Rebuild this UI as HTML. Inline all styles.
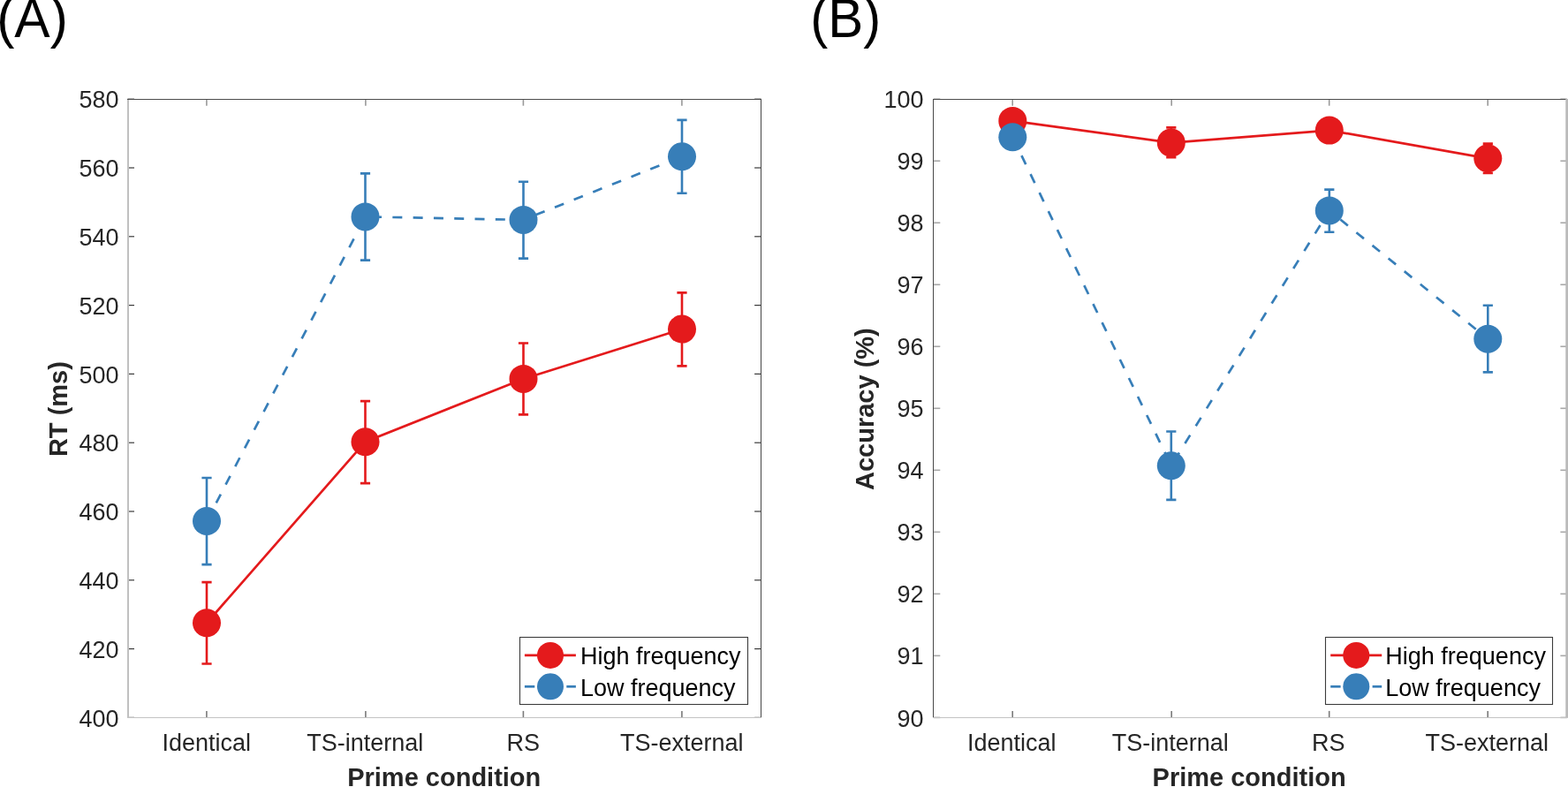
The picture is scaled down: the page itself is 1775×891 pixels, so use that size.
<!DOCTYPE html>
<html><head><meta charset="utf-8"><title>Prime condition RT and accuracy</title>
<style>html,body{margin:0;padding:0;background:#fff;}body{width:1775px;height:891px;overflow:hidden;}svg{display:block;font-family:'Liberation Sans', Arial, sans-serif;}</style>
</head><body>
<svg width="1775" height="891" viewBox="0 0 1775 891">
<rect width="1775" height="891" fill="#fff"/>
<text transform="translate(-3.8,41.8) scale(1,1.035)" font-size="60.5" fill="#000">(A)</text><g><line x1="144.5" y1="812.4" x2="152" y2="812.4" stroke="#3a3a3a" stroke-width="1.2"/><line x1="861.6" y1="812.4" x2="854.1" y2="812.4" stroke="#3a3a3a" stroke-width="1.2"/><line x1="144.5" y1="734.6" x2="152" y2="734.6" stroke="#3a3a3a" stroke-width="1.2"/><line x1="861.6" y1="734.6" x2="854.1" y2="734.6" stroke="#3a3a3a" stroke-width="1.2"/><line x1="144.5" y1="656.8" x2="152" y2="656.8" stroke="#3a3a3a" stroke-width="1.2"/><line x1="861.6" y1="656.8" x2="854.1" y2="656.8" stroke="#3a3a3a" stroke-width="1.2"/><line x1="144.5" y1="579" x2="152" y2="579" stroke="#3a3a3a" stroke-width="1.2"/><line x1="861.6" y1="579" x2="854.1" y2="579" stroke="#3a3a3a" stroke-width="1.2"/><line x1="144.5" y1="501.2" x2="152" y2="501.2" stroke="#3a3a3a" stroke-width="1.2"/><line x1="861.6" y1="501.2" x2="854.1" y2="501.2" stroke="#3a3a3a" stroke-width="1.2"/><line x1="144.5" y1="423.4" x2="152" y2="423.4" stroke="#3a3a3a" stroke-width="1.2"/><line x1="861.6" y1="423.4" x2="854.1" y2="423.4" stroke="#3a3a3a" stroke-width="1.2"/><line x1="144.5" y1="345.6" x2="152" y2="345.6" stroke="#3a3a3a" stroke-width="1.2"/><line x1="861.6" y1="345.6" x2="854.1" y2="345.6" stroke="#3a3a3a" stroke-width="1.2"/><line x1="144.5" y1="267.8" x2="152" y2="267.8" stroke="#3a3a3a" stroke-width="1.2"/><line x1="861.6" y1="267.8" x2="854.1" y2="267.8" stroke="#3a3a3a" stroke-width="1.2"/><line x1="144.5" y1="190" x2="152" y2="190" stroke="#3a3a3a" stroke-width="1.2"/><line x1="861.6" y1="190" x2="854.1" y2="190" stroke="#3a3a3a" stroke-width="1.2"/><line x1="144.5" y1="112.2" x2="152" y2="112.2" stroke="#3a3a3a" stroke-width="1.2"/><line x1="861.6" y1="112.2" x2="854.1" y2="112.2" stroke="#3a3a3a" stroke-width="1.2"/><line x1="233.9" y1="812.4" x2="233.9" y2="804.9" stroke="#7a7a7a" stroke-width="1.6"/><line x1="233.9" y1="112.2" x2="233.9" y2="119.7" stroke="#9a9a9a" stroke-width="1.6"/><line x1="413.9" y1="812.4" x2="413.9" y2="804.9" stroke="#7a7a7a" stroke-width="1.6"/><line x1="413.9" y1="112.2" x2="413.9" y2="119.7" stroke="#9a9a9a" stroke-width="1.6"/><line x1="592.4" y1="812.4" x2="592.4" y2="804.9" stroke="#7a7a7a" stroke-width="1.6"/><line x1="592.4" y1="112.2" x2="592.4" y2="119.7" stroke="#9a9a9a" stroke-width="1.6"/><line x1="771.9" y1="812.4" x2="771.9" y2="804.9" stroke="#7a7a7a" stroke-width="1.6"/><line x1="771.9" y1="112.2" x2="771.9" y2="119.7" stroke="#9a9a9a" stroke-width="1.6"/><rect x="144" y="112" width="2" height="701" fill="#c0c0c0"/><rect x="144" y="112" width="718" height="1" fill="#4c4c4c"/><rect x="861" y="112" width="1" height="701" fill="#464646"/><rect x="144" y="812" width="718" height="1" fill="#c4c4c4"/></g><polyline points="234,705.3 413.5,500.2 592.5,428.9 772,372.6" fill="none" stroke="#E41A1C" stroke-width="2.7"/><path d="M234 659.1V751.5M228.4 659.1H239.6M228.4 751.5H239.6M413.5 454.1V547.1M407.9 454.1H419.1M407.9 547.1H419.1M592.5 388.5V469.4M586.9 388.5H598.1M586.9 469.4H598.1M772 331.4V414.4M766.4 331.4H777.6M766.4 414.4H777.6" fill="none" stroke="#E41A1C" stroke-width="2.6"/><circle cx="234" cy="705.3" r="16.0" fill="#E41A1C"/><circle cx="413.5" cy="500.2" r="16.0" fill="#E41A1C"/><circle cx="592.5" cy="428.9" r="16.0" fill="#E41A1C"/><circle cx="772" cy="372.6" r="16.0" fill="#E41A1C"/><polyline points="234,590 413.5,245.4 592.5,248.9 772,177.2" fill="none" stroke="#377EB8" stroke-width="2.7" stroke-dasharray="11,12.3" stroke-dashoffset="0"/><path d="M234 541V639.1M228.4 541H239.6M228.4 639.1H239.6M413.5 196.4V294.6M407.9 196.4H419.1M407.9 294.6H419.1M592.5 205.8V292.6M586.9 205.8H598.1M586.9 292.6H598.1M772 135.9V218.7M766.4 135.9H777.6M766.4 218.7H777.6" fill="none" stroke="#377EB8" stroke-width="2.6"/><circle cx="234" cy="590" r="16.0" fill="#377EB8"/><circle cx="413.5" cy="245.4" r="16.0" fill="#377EB8"/><circle cx="592.5" cy="248.9" r="16.0" fill="#377EB8"/><circle cx="772" cy="177.2" r="16.0" fill="#377EB8"/><rect x="588.5" y="721.5" width="258" height="76" fill="#fff" stroke="#3c3c3c" stroke-width="1.1"/><line x1="593.9" y1="741.9" x2="651.9" y2="741.9" stroke="#E41A1C" stroke-width="2.7"/><circle cx="623" cy="741.9" r="15" fill="#E41A1C"/><line x1="593.9" y1="777.3" x2="605.3" y2="777.3" stroke="#377EB8" stroke-width="2.7"/><line x1="641.3" y1="777.3" x2="651.9" y2="777.3" stroke="#377EB8" stroke-width="2.7"/><circle cx="623" cy="777.3" r="15" fill="#377EB8"/><text x="657" y="752.2" font-size="27" fill="#000">High frequency</text><text x="657" y="787.6" font-size="27" fill="#000">Low frequency</text><g font-size="27" fill="#262626"><text x="134.5" y="822.5" text-anchor="end">400</text><text x="134.5" y="744.7" text-anchor="end">420</text><text x="134.5" y="666.9" text-anchor="end">440</text><text x="134.5" y="589.1" text-anchor="end">460</text><text x="134.5" y="511.3" text-anchor="end">480</text><text x="134.5" y="433.5" text-anchor="end">500</text><text x="134.5" y="355.7" text-anchor="end">520</text><text x="134.5" y="277.9" text-anchor="end">540</text><text x="134.5" y="200.1" text-anchor="end">560</text><text x="134.5" y="122.3" text-anchor="end">580</text><text x="233.7" y="850.3" text-anchor="middle">Identical</text><text x="413.2" y="850.3" text-anchor="middle">TS-internal</text><text x="592.2" y="850.3" text-anchor="middle">RS</text><text x="771.7" y="850.3" text-anchor="middle">TS-external</text></g><text x="502.75" y="890.3" text-anchor="middle" font-weight="bold" font-size="29.0" fill="#262626">Prime condition</text><text transform="translate(76.4,463.1) rotate(-90)" text-anchor="middle" font-weight="bold" font-size="29.0" fill="#262626">RT (ms)</text>
<text transform="translate(917.3,41.8) scale(1,1.035)" font-size="60" fill="#000">(B)</text><g><line x1="1056.8" y1="812.4" x2="1064.3" y2="812.4" stroke="#a8a8a8" stroke-width="1.6"/><line x1="1773.9" y1="812.4" x2="1766.4" y2="812.4" stroke="#a8a8a8" stroke-width="1.6"/><line x1="1056.8" y1="742.38" x2="1064.3" y2="742.38" stroke="#a8a8a8" stroke-width="1.6"/><line x1="1773.9" y1="742.38" x2="1766.4" y2="742.38" stroke="#a8a8a8" stroke-width="1.6"/><line x1="1056.8" y1="672.36" x2="1064.3" y2="672.36" stroke="#a8a8a8" stroke-width="1.6"/><line x1="1773.9" y1="672.36" x2="1766.4" y2="672.36" stroke="#a8a8a8" stroke-width="1.6"/><line x1="1056.8" y1="602.34" x2="1064.3" y2="602.34" stroke="#a8a8a8" stroke-width="1.6"/><line x1="1773.9" y1="602.34" x2="1766.4" y2="602.34" stroke="#a8a8a8" stroke-width="1.6"/><line x1="1056.8" y1="532.32" x2="1064.3" y2="532.32" stroke="#a8a8a8" stroke-width="1.6"/><line x1="1773.9" y1="532.32" x2="1766.4" y2="532.32" stroke="#a8a8a8" stroke-width="1.6"/><line x1="1056.8" y1="462.3" x2="1064.3" y2="462.3" stroke="#a8a8a8" stroke-width="1.6"/><line x1="1773.9" y1="462.3" x2="1766.4" y2="462.3" stroke="#a8a8a8" stroke-width="1.6"/><line x1="1056.8" y1="392.28" x2="1064.3" y2="392.28" stroke="#a8a8a8" stroke-width="1.6"/><line x1="1773.9" y1="392.28" x2="1766.4" y2="392.28" stroke="#a8a8a8" stroke-width="1.6"/><line x1="1056.8" y1="322.26" x2="1064.3" y2="322.26" stroke="#a8a8a8" stroke-width="1.6"/><line x1="1773.9" y1="322.26" x2="1766.4" y2="322.26" stroke="#a8a8a8" stroke-width="1.6"/><line x1="1056.8" y1="252.24" x2="1064.3" y2="252.24" stroke="#a8a8a8" stroke-width="1.6"/><line x1="1773.9" y1="252.24" x2="1766.4" y2="252.24" stroke="#a8a8a8" stroke-width="1.6"/><line x1="1056.8" y1="182.22" x2="1064.3" y2="182.22" stroke="#a8a8a8" stroke-width="1.6"/><line x1="1773.9" y1="182.22" x2="1766.4" y2="182.22" stroke="#a8a8a8" stroke-width="1.6"/><line x1="1056.8" y1="112.2" x2="1064.3" y2="112.2" stroke="#a8a8a8" stroke-width="1.6"/><line x1="1773.9" y1="112.2" x2="1766.4" y2="112.2" stroke="#a8a8a8" stroke-width="1.6"/><line x1="1146.2" y1="812.4" x2="1146.2" y2="804.9" stroke="#7a7a7a" stroke-width="1.6"/><line x1="1146.2" y1="112.2" x2="1146.2" y2="119.7" stroke="#9a9a9a" stroke-width="1.6"/><line x1="1326.2" y1="812.4" x2="1326.2" y2="804.9" stroke="#7a7a7a" stroke-width="1.6"/><line x1="1326.2" y1="112.2" x2="1326.2" y2="119.7" stroke="#9a9a9a" stroke-width="1.6"/><line x1="1504.7" y1="812.4" x2="1504.7" y2="804.9" stroke="#7a7a7a" stroke-width="1.6"/><line x1="1504.7" y1="112.2" x2="1504.7" y2="119.7" stroke="#9a9a9a" stroke-width="1.6"/><line x1="1684.2" y1="812.4" x2="1684.2" y2="804.9" stroke="#7a7a7a" stroke-width="1.6"/><line x1="1684.2" y1="112.2" x2="1684.2" y2="119.7" stroke="#9a9a9a" stroke-width="1.6"/><rect x="1056" y="112" width="1" height="701" fill="#484848"/><rect x="1056" y="112" width="718" height="1" fill="#4c4c4c"/><rect x="1772.3" y="112" width="2.7" height="701" fill="#bababa"/><rect x="1056" y="812" width="719" height="1" fill="#c4c4c4"/></g><polyline points="1146.3,136.9 1325.8,161.6 1504.8,147.6 1684.3,179.3" fill="none" stroke="#E41A1C" stroke-width="2.7"/><path d="M1146.3 129V145M1140.7 129H1151.9M1140.7 145H1151.9M1325.8 144.4V178.3M1320.2 144.4H1331.4M1320.2 178.3H1331.4M1504.8 140V155M1499.2 140H1510.4M1499.2 155H1510.4M1684.3 162.6V195.9M1678.7 162.6H1689.9M1678.7 195.9H1689.9" fill="none" stroke="#E41A1C" stroke-width="2.6"/><circle cx="1146.3" cy="136.9" r="16.0" fill="#E41A1C"/><circle cx="1325.8" cy="161.6" r="16.0" fill="#E41A1C"/><circle cx="1504.8" cy="147.6" r="16.0" fill="#E41A1C"/><circle cx="1684.3" cy="179.3" r="16.0" fill="#E41A1C"/><polyline points="1146.3,155.2 1325.8,527.2 1504.8,238.4 1684.3,383.7" fill="none" stroke="#377EB8" stroke-width="2.7" stroke-dasharray="11,12.3" stroke-dashoffset="0"/><path d="M1146.3 144V166.5M1140.7 144H1151.9M1140.7 166.5H1151.9M1325.8 488.5V565.9M1320.2 488.5H1331.4M1320.2 565.9H1331.4M1504.8 214.6V262.7M1499.2 214.6H1510.4M1499.2 262.7H1510.4M1684.3 345.8V421.4M1678.7 345.8H1689.9M1678.7 421.4H1689.9" fill="none" stroke="#377EB8" stroke-width="2.6"/><circle cx="1146.3" cy="155.2" r="16.0" fill="#377EB8"/><circle cx="1325.8" cy="527.2" r="16.0" fill="#377EB8"/><circle cx="1504.8" cy="238.4" r="16.0" fill="#377EB8"/><circle cx="1684.3" cy="383.7" r="16.0" fill="#377EB8"/><rect x="1500.5" y="721.5" width="257" height="76" fill="#fff" stroke="#3c3c3c" stroke-width="1.1"/><line x1="1506.2" y1="741.9" x2="1564.2" y2="741.9" stroke="#E41A1C" stroke-width="2.7"/><circle cx="1535.3" cy="741.9" r="15" fill="#E41A1C"/><line x1="1506.2" y1="777.3" x2="1517.6" y2="777.3" stroke="#377EB8" stroke-width="2.7"/><line x1="1553.6" y1="777.3" x2="1564.2" y2="777.3" stroke="#377EB8" stroke-width="2.7"/><circle cx="1535.3" cy="777.3" r="15" fill="#377EB8"/><text x="1568.3" y="752.2" font-size="27" fill="#000">High frequency</text><text x="1568.3" y="787.6" font-size="27" fill="#000">Low frequency</text><g font-size="27" fill="#262626"><text x="1045.6" y="822.5" text-anchor="end">90</text><text x="1045.6" y="752.48" text-anchor="end">91</text><text x="1045.6" y="682.46" text-anchor="end">92</text><text x="1045.6" y="612.44" text-anchor="end">93</text><text x="1045.6" y="542.42" text-anchor="end">94</text><text x="1045.6" y="472.4" text-anchor="end">95</text><text x="1045.6" y="402.38" text-anchor="end">96</text><text x="1045.6" y="332.36" text-anchor="end">97</text><text x="1045.6" y="262.34" text-anchor="end">98</text><text x="1045.6" y="192.32" text-anchor="end">99</text><text x="1045.6" y="122.3" text-anchor="end">100</text><text x="1145.3" y="850.3" text-anchor="middle">Identical</text><text x="1324.8" y="850.3" text-anchor="middle">TS-internal</text><text x="1503.8" y="850.3" text-anchor="middle">RS</text><text x="1683.3" y="850.3" text-anchor="middle">TS-external</text></g><text x="1414.15" y="890.3" text-anchor="middle" font-weight="bold" font-size="29.0" fill="#262626">Prime condition</text><text transform="translate(988.7,463.1) rotate(-90)" text-anchor="middle" font-weight="bold" font-size="29.0" fill="#262626">Accuracy (%)</text>
</svg>
</body></html>
